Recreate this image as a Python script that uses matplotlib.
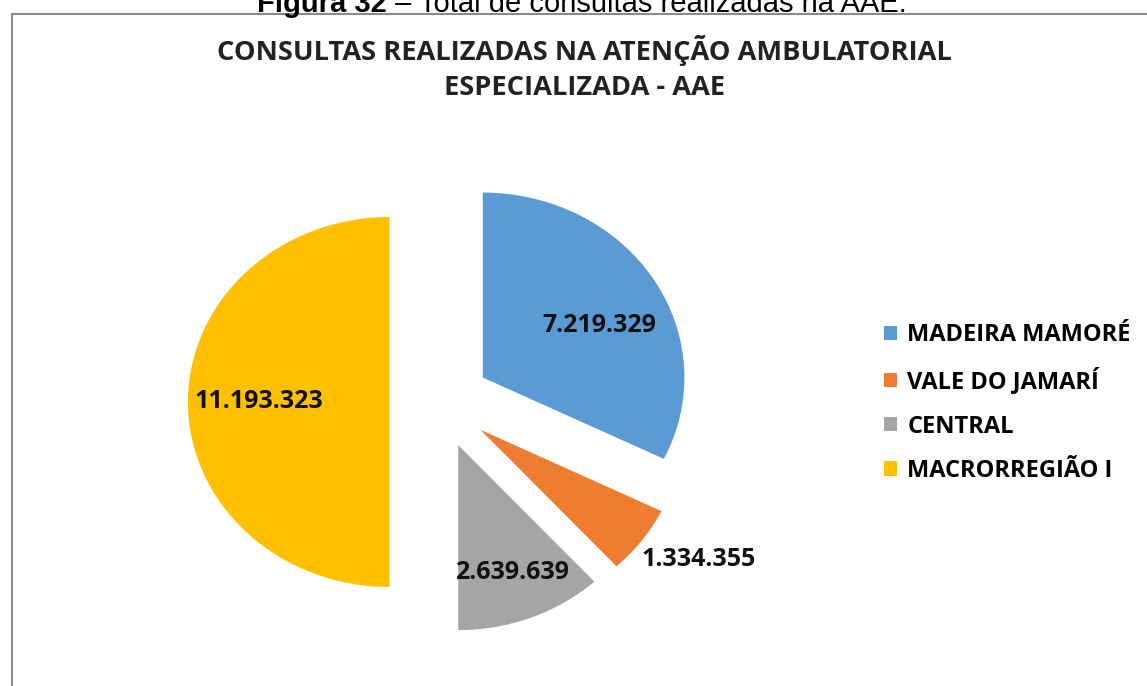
import numpy as np
import matplotlib
matplotlib.use("Agg")
import matplotlib.pyplot as plt
from matplotlib.patches import Rectangle

# Dados do gráfico
regioes = ["MADEIRA MAMORÉ", "VALE DO JAMARÍ", "CENTRAL", "MACRORREGIÃO I"]
consultas = [7219329, 1334355, 2639639, 11193323]
rotulos = ["7.219.329", "1.334.355", "2.639.639", "11.193.323"]
cores = ["#5B9BD5", "#ED7D31", "#A5A5A5", "#FFC000"]

# Estilo (fração do raio / graus)
explodir = [0.25, 0.25, 0.25, 0.25]
dist_rotulo = [0.64, 1.29, 0.74, 0.65]
desvio_ang = [-6, 4, 0, 0]

W, H = 1147, 686
sx = 1.09  # a imagem original está esticada na horizontal
fig = plt.figure(figsize=(W / 100, H / 100), dpi=100)
ax = fig.add_axes([0, 0, 1, 1])

raio = 185
cx, cy = 440 / sx, H - 402
fatias, _ = ax.pie(consultas, colors=cores, explode=[e * raio for e in explodir],
                   startangle=90, counterclock=False, radius=raio,
                   center=(cx, cy), frame=True)
ax.set_xlim(0, W / sx)
ax.set_ylim(0, H)
ax.set_aspect("auto")
ax.axis("off")

# rótulos de valores
for w, txt, d, da in zip(fatias, rotulos, dist_rotulo, desvio_ang):
    ang = np.deg2rad((w.theta1 + w.theta2) / 2 + da)
    x = w.center[0] + d * raio * np.cos(ang)
    y = w.center[1] + d * raio * np.sin(ang)
    ax.text(x, y, txt, ha="center", va="center", fontsize=18,
            fontweight="bold", family="Open Sans", color="#111111")

# moldura do gráfico
fig.patches.append(Rectangle((12 / W, -0.1), 1.2, 1 - 14 / H + 0.1,
                             transform=fig.transFigure, fill=False,
                             edgecolor="#8a8a8a", linewidth=1.5))

# legenda do documento (cortada no topo)
fig.text(0.337, 1 - 12 / H, "Figura 32", ha="right", va="baseline",
         fontsize=21, fontweight="bold", family="Liberation Sans")
fig.text(0.337, 1 - 12 / H, " – Total de consultas realizadas na AAE.", ha="left",
         va="baseline", fontsize=21, family="Liberation Sans")

# título
fig.text(584 / W, 1 - 51 / H, "CONSULTAS REALIZADAS NA ATENÇÃO AMBULATORIAL",
         ha="center", va="center", fontsize=19.6, fontweight="bold",
         family="Open Sans", color="#222222")
fig.text(584 / W, 1 - 88 / H, "ESPECIALIZADA - AAE",
         ha="center", va="center", fontsize=19.6, fontweight="bold",
         family="Open Sans", color="#222222")

leg = ax.legend(fatias, regioes, loc="center left",
                bbox_to_anchor=(863 / W, 1 - 403 / H), bbox_transform=fig.transFigure,
                frameon=False, handlelength=0.55, handleheight=0.55,
                handletextpad=0.42, labelspacing=0.86,
                prop={"family": "Open Sans", "weight": "bold", "size": 17})

fig.savefig("out.png", dpi=100)
